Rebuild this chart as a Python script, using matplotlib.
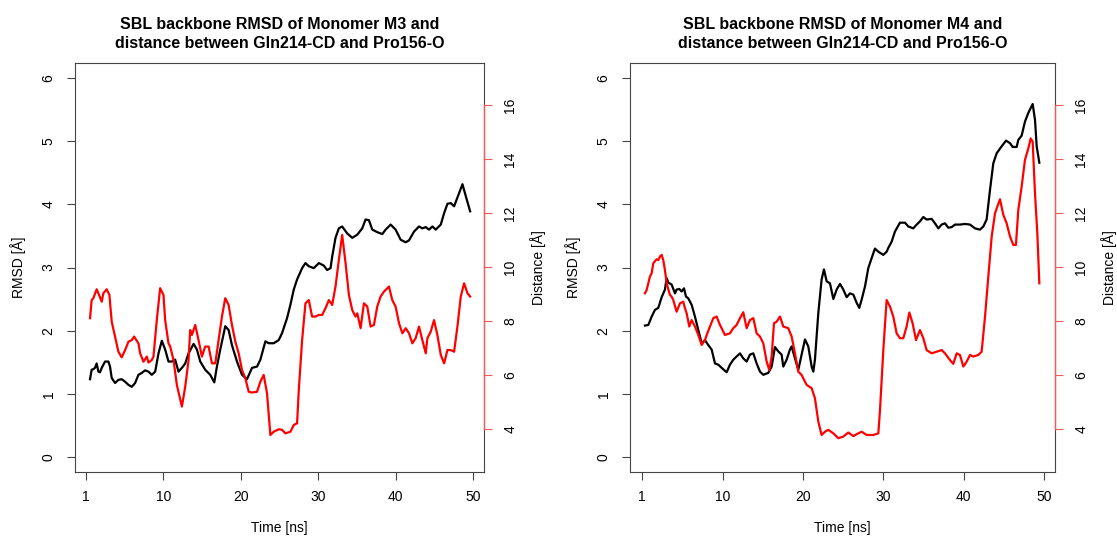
import matplotlib
matplotlib.use("Agg")
import matplotlib.pyplot as plt

plt.rcParams['font.family'] = ['Liberation Sans', 'DejaVu Sans']

# ------------------------------------------------------------
# data (time in ns, tick position 0 is labelled "1")
# ------------------------------------------------------------

titles = ["SBL backbone RMSD of Monomer M3 and\ndistance between Gln214-CD and Pro156-O",
          "SBL backbone RMSD of Monomer M4 and\ndistance between Gln214-CD and Pro156-O"]

x_ticks = [0, 10, 20, 30, 40, 50]
x_tick_labels = ["1", "10", "20", "30", "40", "50"]
rmsd_ticks = [0, 1, 2, 3, 4, 5, 6]
dist_ticks = [4, 6, 8, 10, 12, 14, 16]

# M3 RMSD
m3_rmsd_t = [0.52, 0.73, 0.95, 1.16, 1.38, 1.60, 1.81, 2.03, 2.46, 2.89, 3.10, 3.32, 3.75, 4.18,
             4.61, 5.05, 5.48, 5.91, 6.34, 6.77, 7.20, 7.63, 8.06, 8.49, 8.93, 9.36, 9.79, 10.22,
             10.65, 11.08, 11.51, 11.94, 12.38, 12.81, 13.24, 13.89, 14.32, 14.75, 15.39, 16.04,
             16.56, 16.90, 17.33, 17.98, 18.41, 18.84, 19.49, 20.14, 20.78, 21.43, 22.08, 22.51,
             23.16, 23.59, 24.23, 24.88, 25.31, 25.96, 26.39, 26.82, 27.25, 27.90, 28.33, 28.76,
             29.41, 30.06, 30.70, 31.13, 31.57, 31.78, 32.21, 32.64, 33.07, 33.72, 34.37, 35.02,
             35.66, 36.09, 36.52, 36.96, 37.60, 38.25, 38.68, 39.33, 39.97, 40.62, 41.27, 41.70,
             42.35, 42.99, 43.42, 43.86, 44.29, 44.72, 45.15, 45.80, 46.23, 46.66, 47.09, 47.52,
             48.17, 48.60, 49.03, 49.59]
m3_rmsd = [1.23, 1.38, 1.39, 1.41, 1.48, 1.35, 1.34, 1.41, 1.51, 1.51, 1.43, 1.25, 1.17, 1.22,
           1.23, 1.19, 1.14, 1.11, 1.17, 1.30, 1.33, 1.37, 1.35, 1.30, 1.35, 1.64, 1.84, 1.70,
           1.51, 1.51, 1.54, 1.35, 1.41, 1.48, 1.64, 1.79, 1.70, 1.51, 1.38, 1.30,
           1.18, 1.43, 1.70, 2.07, 2.01, 1.77, 1.51, 1.30, 1.23, 1.41, 1.43, 1.54,
           1.83, 1.80, 1.80, 1.85, 1.96, 2.20, 2.41, 2.65, 2.81, 2.99, 3.07, 3.02,
           2.99, 3.07, 3.03, 2.96, 2.99, 3.17, 3.47, 3.62, 3.65, 3.54, 3.47, 3.52,
           3.62, 3.76, 3.75, 3.60, 3.56, 3.53, 3.60, 3.68, 3.60, 3.44, 3.40, 3.43,
           3.57, 3.65, 3.62, 3.64, 3.60, 3.65, 3.60, 3.68, 3.86, 4.01, 4.02, 3.97,
           4.18, 4.32, 4.13, 3.89]

# M3 distance
m3_dist_t = [0.52, 0.73, 0.95, 1.38, 1.60, 2.03, 2.24, 2.67, 3.02, 3.32, 3.75, 4.18, 4.61, 5.05,
             5.48, 5.91, 6.21, 6.77, 6.99, 7.42, 7.85, 8.06, 8.49, 8.71, 9.14, 9.57, 10.00, 10.22,
             10.65, 10.87, 11.30, 11.73, 12.38, 12.81, 13.24, 13.45, 13.67, 14.10, 14.53, 14.96,
             15.39, 15.83, 16.26, 16.69, 17.12, 17.55, 17.98, 18.41, 18.84, 19.28, 19.71, 20.14,
             20.57, 21.00, 21.43, 22.08, 22.51, 22.94, 23.37, 23.80, 24.23, 24.88, 25.31, 25.74,
             26.39, 26.82, 27.25, 27.47, 27.90, 28.33, 28.76, 29.19, 29.62, 30.06, 30.49, 30.92,
             31.35, 31.78, 32.21, 32.64, 33.07, 33.51, 33.94, 34.37, 34.80, 35.02, 35.45, 35.88,
             36.31, 36.74, 37.17, 37.60, 38.03, 38.46, 39.11, 39.54, 39.97, 40.41, 40.84, 41.27,
             41.70, 42.13, 42.56, 42.99, 43.42, 43.86, 44.07, 44.50, 44.93, 45.36, 45.80, 46.23,
             46.66, 47.09, 47.52, 47.95, 48.38, 48.81, 49.25, 49.59]
m3_dist = [8.11, 8.78, 8.85, 9.18, 9.03, 8.72, 9.03, 9.18, 8.97, 7.98, 7.43, 6.87, 6.66, 6.93,
           7.24, 7.30, 7.43, 7.18, 6.81, 6.50, 6.69, 6.47, 6.56, 6.69, 8.04, 9.22, 8.97, 8.04,
           7.18, 7.06, 6.56, 5.64, 4.84, 5.58, 6.56, 7.67, 7.49, 7.86, 7.30, 6.69,
           7.06, 7.06, 6.44, 6.44, 7.30, 8.17, 8.85, 8.60, 7.86, 7.24, 6.81, 6.19,
           5.89, 5.39, 5.36, 5.39, 5.76, 6.01, 5.33, 3.79, 3.91, 4.00, 3.98, 3.85,
           3.91, 4.16, 4.22, 5.45, 7.30, 8.66, 8.78, 8.17, 8.17, 8.23, 8.23, 8.48,
           8.78, 8.60, 9.28, 10.26, 11.19, 10.14, 8.97, 8.41, 8.17, 8.29, 7.74, 8.66,
           8.54, 7.80, 7.86, 8.54, 8.91, 9.09, 9.28, 8.78, 8.54, 7.92, 7.55, 7.74,
           7.55, 7.18, 7.37, 7.80, 7.30, 6.81, 7.37, 7.61, 8.04, 7.49, 6.75, 6.44,
           6.93, 6.93, 6.87, 7.80, 8.91, 9.40, 9.03, 8.91]

# M4 RMSD
m4_rmsd_t = [0.33, 0.75, 1.16, 1.58, 1.99, 2.41, 2.82, 3.03, 3.24, 3.65, 4.07, 4.27, 4.61, 4.90,
             5.19, 5.44, 5.73, 6.14, 6.56, 6.97, 7.39, 7.80, 8.22, 8.63, 9.05, 9.46, 9.88, 10.50,
             10.91, 11.33, 11.74, 12.16, 12.57, 12.99, 13.40, 13.82, 14.23, 14.65, 15.06, 15.68,
             16.10, 16.51, 16.93, 17.34, 17.55, 17.97, 18.38, 18.59, 19.00, 19.42, 19.83, 20.25,
             20.66, 21.08, 21.29, 21.49, 21.91, 22.32, 22.61, 22.95, 23.36, 23.78, 24.19, 24.61,
             25.02, 25.44, 25.85, 26.27, 26.68, 27.01, 27.30, 27.72, 28.13, 28.55, 28.96, 29.38,
             30.00, 30.41, 30.62, 31.04, 31.45, 32.07, 32.70, 33.11, 33.73, 34.15, 34.56, 34.98,
             35.39, 36.02, 36.43, 36.85, 37.26, 37.68, 38.09, 38.51, 38.92, 39.54, 40.17, 40.79,
             41.41, 42.03, 42.45, 42.86, 43.28, 43.69, 44.11, 44.73, 45.27, 45.77, 46.10, 46.60,
             46.80, 47.22, 47.63, 48.05, 48.59, 48.88, 49.09, 49.42]
m4_rmsd = [2.08, 2.09, 2.22, 2.33, 2.36, 2.53, 2.65, 2.83, 2.76, 2.73, 2.59, 2.65, 2.66, 2.62,
           2.67, 2.54, 2.51, 2.41, 2.22, 2.01, 1.80, 1.85, 1.77, 1.70, 1.48, 1.46, 1.41, 1.34,
           1.46, 1.54, 1.59, 1.64, 1.56, 1.51, 1.62, 1.64, 1.48, 1.35, 1.30, 1.33,
           1.43, 1.74, 1.67, 1.62, 1.43, 1.54, 1.70, 1.75, 1.56, 1.38, 1.62, 1.86,
           1.75, 1.43, 1.35, 1.54, 2.28, 2.81, 2.97, 2.78, 2.75, 2.50, 2.65, 2.74,
           2.65, 2.53, 2.59, 2.57, 2.44, 2.36, 2.49, 2.70, 2.99, 3.15, 3.30, 3.25,
           3.20, 3.25, 3.31, 3.41, 3.57, 3.71, 3.71, 3.65, 3.62, 3.68, 3.73, 3.80,
           3.76, 3.77, 3.70, 3.62, 3.68, 3.70, 3.63, 3.64, 3.68, 3.68, 3.69, 3.68,
           3.62, 3.60, 3.65, 3.76, 4.23, 4.65, 4.81, 4.92, 5.01, 4.97, 4.91, 4.91,
           5.02, 5.09, 5.31, 5.45, 5.59, 5.34, 4.92, 4.66]

# M4 distance
m4_dist_t = [0.33, 0.54, 0.75, 0.95, 1.16, 1.37, 1.78, 1.99, 2.20, 2.41, 2.61, 2.82, 3.03, 3.44,
             3.65, 3.86, 4.27, 4.69, 5.10, 5.31, 5.52, 5.85, 6.14, 6.56, 6.97, 7.39, 7.80, 8.09,
             8.42, 8.84, 9.25, 9.67, 10.29, 10.91, 11.33, 11.74, 12.16, 12.57, 12.99, 13.40,
             13.82, 14.23, 14.65, 15.06, 15.48, 15.81, 16.10, 16.39, 16.72, 17.14, 17.55, 18.17,
             18.59, 19.00, 19.42, 19.83, 20.46, 21.08, 21.49, 21.91, 22.32, 22.74, 23.15, 23.78,
             24.40, 25.02, 25.64, 26.27, 26.89, 27.30, 27.93, 28.76, 29.38, 29.59, 30.00, 30.41,
             30.83, 31.24, 31.66, 32.07, 32.49, 32.90, 33.24, 33.65, 34.07, 34.56, 34.98, 35.39,
             36.02, 36.64, 37.26, 37.68, 38.30, 38.71, 39.13, 39.54, 39.96, 40.37, 40.79, 41.20,
             41.83, 42.24, 42.66, 43.07, 43.49, 43.90, 44.52, 44.94, 45.35, 45.77, 46.18, 46.51,
             46.80, 47.22, 47.63, 48.05, 48.34, 48.59, 48.88, 49.17, 49.42]
m4_dist = [9.03, 9.15, 9.40, 9.65, 9.77, 10.14, 10.29, 10.26, 10.39, 10.45, 10.26, 9.89, 9.40, 8.97,
           8.91, 8.78, 8.35, 8.66, 8.72, 8.48, 8.29, 7.80, 8.04, 7.80, 7.49, 7.12, 7.30, 7.55,
           7.80, 8.11, 8.17, 7.86, 7.49, 7.55, 7.74, 7.86, 8.11, 8.33, 7.74, 8.04,
           8.11, 7.55, 7.43, 7.18, 6.50, 6.19, 6.69, 7.92, 7.98, 8.17, 7.80, 7.74,
           7.43, 6.81, 6.13, 6.01, 5.64, 5.52, 5.15, 4.28, 3.79, 3.91, 3.98, 3.85,
           3.67, 3.73, 3.88, 3.75, 3.85, 3.91, 3.79, 3.79, 3.85, 4.72, 6.93, 8.78,
           8.54, 8.17, 7.55, 7.37, 7.37, 7.80, 8.32, 7.92, 7.30, 7.67, 7.37, 6.93,
           6.81, 6.87, 6.93, 6.81, 6.56, 6.42, 6.81, 6.75, 6.32, 6.50, 6.75, 6.69,
           6.75, 6.87, 8.17, 9.65, 11.13, 11.99, 12.51, 11.93, 11.62, 11.13, 10.82, 10.82,
           12.11, 12.98, 13.96, 14.39, 14.76, 14.64, 12.73, 11.25, 9.40]

panels = [
    (m3_rmsd_t, m3_rmsd, m3_dist_t, m3_dist),
    (m4_rmsd_t, m4_rmsd, m4_dist_t, m4_dist),
]

# ------------------------------------------------------------
# figure, axes placed in pixels
# ------------------------------------------------------------

W, H = 1117, 536
fig = plt.figure(figsize=(W / 100, H / 100), dpi=100)

# left, top, right, bottom of each plot frame in pixels
frames = [(75, 63, 484, 472), (630, 63, 1055, 472)]
xlims = [(-1.42, 51.38), (-1.53, 51.37)]

frame_col = '#444444'
axis_red = '#f25a5a'

for i, (t1, r, t2, d) in enumerate(panels):
    l, t, rgt, b = frames[i]
    ax = fig.add_axes([l / W, (H - b) / H, (rgt - l) / W, (b - t) / H])

    ax.plot(t1, r, color='black', lw=1.6)
    ax.set_xlim(*xlims[i])
    ax.set_ylim(-0.24, 6.24)
    ax.set_xticks(x_ticks)
    ax.set_xticklabels(x_tick_labels)
    ax.set_yticks(rmsd_ticks)
    ax.set_yticklabels([str(v) for v in rmsd_ticks], rotation=90, va='center')
    ax.tick_params(axis='x', length=6, width=0.8, color=frame_col, labelsize=10, pad=7)
    ax.tick_params(axis='y', length=6, width=0.8, color=frame_col, labelsize=10, pad=8)
    for s in ax.spines.values():
        s.set_color(frame_col)
        s.set_linewidth(0.8)

    ax.set_xlabel('Time [ns]', fontsize=10, labelpad=12)
    ax.set_ylabel('RMSD [Å]', fontsize=10, labelpad=11)

    ax2 = ax.twinx()
    ax2.plot(t2, d, color='#ff0000', lw=1.6)
    ax2.set_ylim(2.42, 17.55)
    ax2.set_yticks(dist_ticks)
    ax2.set_yticklabels([str(v) for v in dist_ticks], rotation=90, va='center')
    ax2.tick_params(axis='y', length=6, width=0.8, color=axis_red, labelsize=10, pad=8)
    for name in ['top', 'bottom', 'left']:
        ax2.spines[name].set_visible(False)
    ax2.spines['right'].set_bounds(4, 16)
    ax2.spines['right'].set_color(axis_red)
    ax2.spines['right'].set_linewidth(1.0)
    ax2.set_ylabel('Distance [Å]', fontsize=10, rotation=90, labelpad=9)

    fig.text((l + rgt) / 2 / W, 1 - 34 / H, titles[i], ha='center', va='center',
             fontsize=11.5, fontweight='bold', linespacing=1.3)

fig.savefig('out.png', dpi=100)
